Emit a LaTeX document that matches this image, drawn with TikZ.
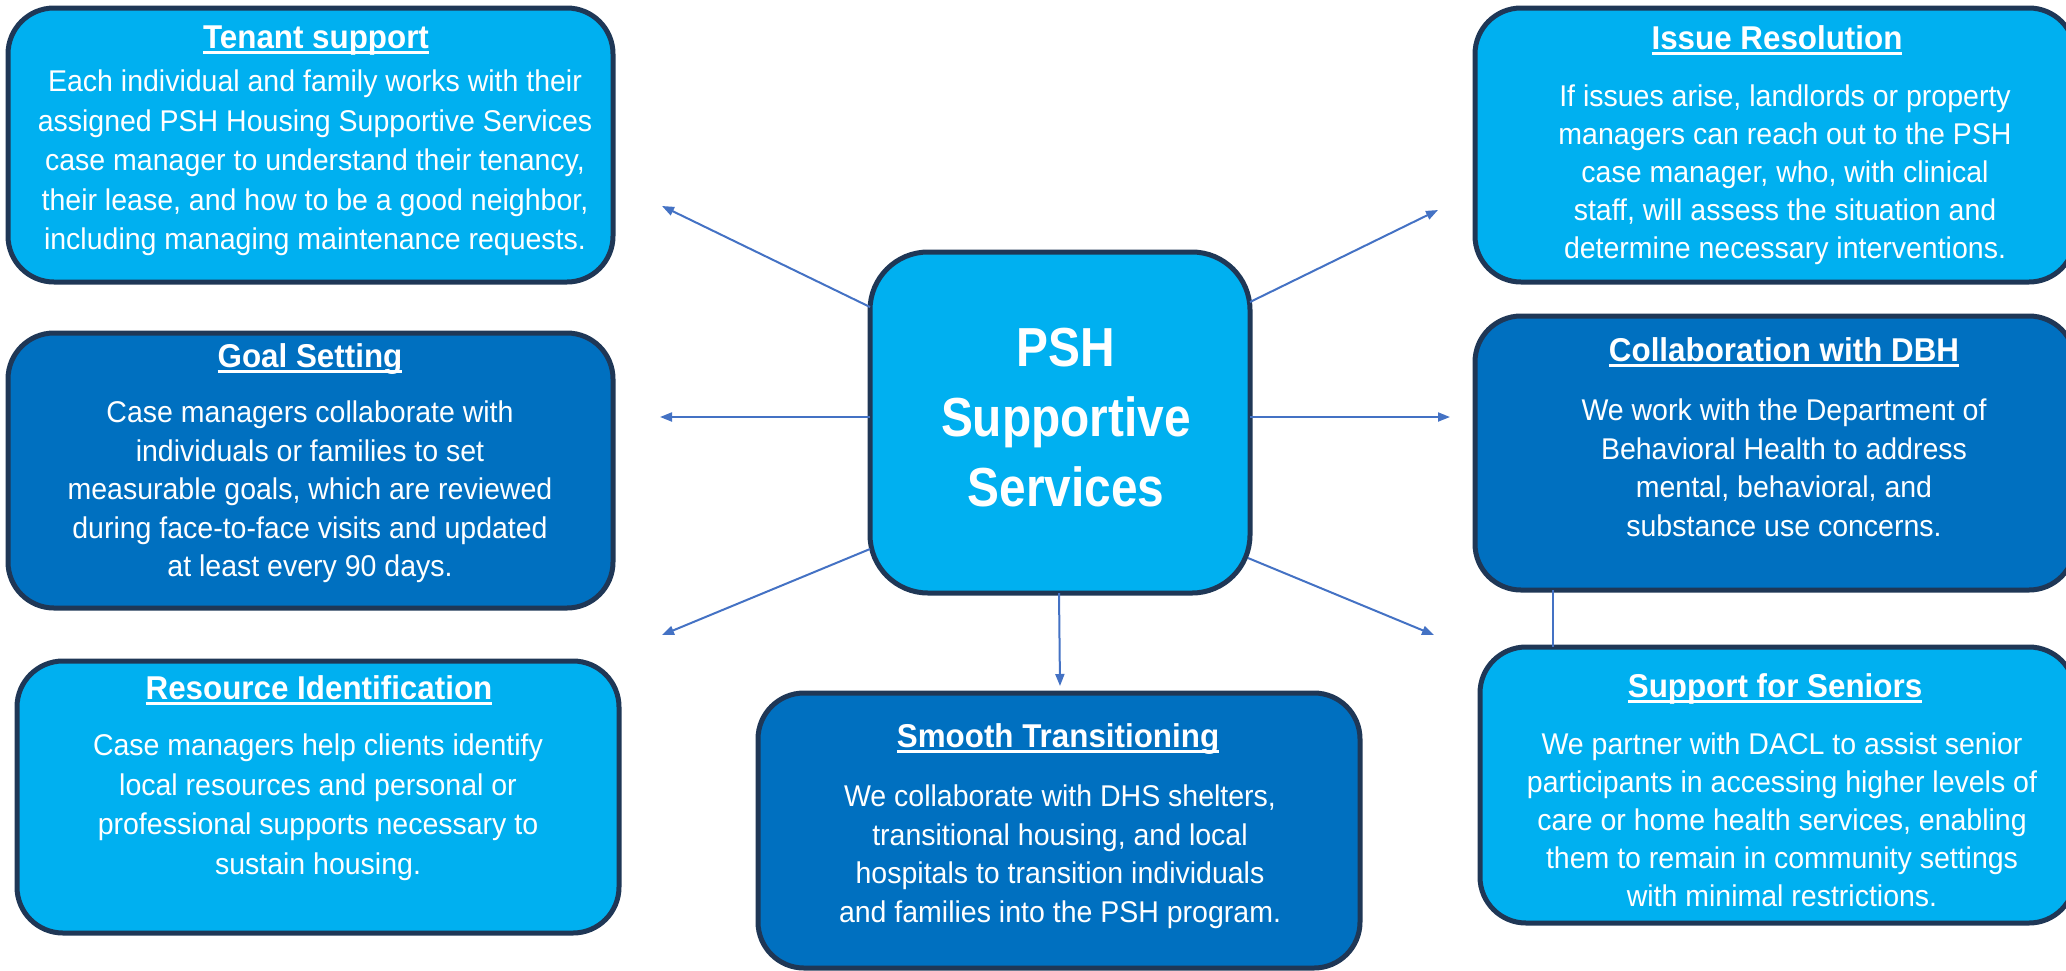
\documentclass[tikz,border=0pt]{standalone}
\usepackage{fontspec}
\setmainfont{Liberation Sans}[FakeStretch=0.95]
\newfontfamily\pshfont{Liberation Sans}[FakeStretch=0.87]
\usetikzlibrary{arrows.meta}
\definecolor{lightfill}{HTML}{00B0F0}
\definecolor{darkfill}{HTML}{0070C0}
\definecolor{edgeblue}{HTML}{1F3756}
\definecolor{linkblue}{HTML}{4472C4}
\newsavebox\ttlbox
\newcommand{\undl}[1]{\sbox\ttlbox{#1}\rlap{\rule[-6pt]{\wd\ttlbox}{2.6pt}}\usebox\ttlbox}
\tikzset{
  card/.style={draw=edgeblue, line width=5pt, inner sep=0pt, outer sep=0pt},
  lightcard/.style={card, fill=lightfill},
  darkcard/.style={card, fill=darkfill},
  cardtitle/.style={text=white, anchor=base, inner sep=0pt,
    font=\bfseries\fontsize{33}{38}\selectfont},
  cardbody/.style={text=white, align=center, anchor=north, inner sep=0pt,
    font=\fontsize{30}{38.5}\selectfont},
  link/.style={draw=linkblue, line width=2pt},
  arrowlink/.style={link, -{Triangle[length=12pt,width=9pt]}}
}
\begin{document}
\begin{tikzpicture}[x=1pt,y=-1pt]
\useasboundingbox (0,0) rectangle (2066,970);

% boxes
\node[lightcard, minimum width=605pt, minimum height=274pt, rounded corners=46pt] (tenant) at (310.5,145) {};
\node[darkcard, minimum width=605pt, minimum height=275pt, rounded corners=46pt] (goal) at (310.5,470.5) {};
\node[lightcard, minimum width=602pt, minimum height=272pt, rounded corners=46pt] (resource) at (318,797) {};
\node[lightcard, minimum width=380pt, minimum height=341pt, rounded corners=58pt] (psh) at (1060,422.5) {};
\node[darkcard, minimum width=602pt, minimum height=275pt, rounded corners=46pt] (smooth) at (1059,830.5) {};
\node[lightcard, minimum width=600pt, minimum height=274pt, rounded corners=46pt] (issue) at (1775,145) {};
\node[darkcard, minimum width=600pt, minimum height=274pt, rounded corners=46pt] (dbh) at (1775,453) {};
\node[lightcard, minimum width=595pt, minimum height=276pt, rounded corners=46pt] (seniors) at (1777.5,785) {};

% centre label
\node[text=white, align=center, anchor=north, inner sep=0pt,
  font=\pshfont\bfseries\fontsize{55}{70}\selectfont] (pshtext) at (1066,327.5)
  {PSH\\Supportive\\Services};

% titles
\node[cardtitle] (tenantT) at (316,48) {\undl{Tenant support}};
\node[cardtitle] (goalT) at (310,367) {\undl{Goal Setting}};
\node[cardtitle] (resourceT) at (319,699) {\undl{Resource Identification}};
\node[cardtitle] (smoothT) at (1058,747) {\undl{Smooth Transitioning}};
\node[cardtitle] (issueT) at (1777,49) {\undl{Issue Resolution}};
\node[cardtitle] (dbhT) at (1784,361) {\undl{Collaboration with DBH}};
\node[cardtitle] (seniorsT) at (1775,697) {\undl{Support for Seniors}};

% body texts
\node[cardbody, font=\fontsize{30}{39.5}\selectfont] (tenantB) at (315,70)
  {Each individual and family works with their\\assigned PSH Housing Supportive Services\\case manager to understand their tenancy,\\their lease, and how to be a good neighbor,\\including managing maintenance requests.};
\node[cardbody] (goalB) at (310,401)
  {Case managers collaborate with\\individuals or families to set\\measurable goals, which are reviewed\\during face-to-face visits and updated\\at least every 90 days.};
\node[cardbody, font=\fontsize{30}{39.5}\selectfont] (resourceB) at (318,734)
  {Case managers help clients identify\\local resources and personal or\\professional supports necessary to\\sustain housing.};
\node[cardbody] (smoothB) at (1060,785)
  {We collaborate with DHS shelters,\\transitional housing, and local\\hospitals to transition individuals\\and families into the PSH program.};
\node[cardbody, font=\fontsize{30}{37.8}\selectfont] (issueB) at (1785,85)
  {If issues arise, landlords or property\\managers can reach out to the PSH\\case manager, who, with clinical\\staff, will assess the situation and\\determine necessary interventions.};
\node[cardbody] (dbhB) at (1784,399)
  {We work with the Department of\\Behavioral Health to address\\mental, behavioral, and\\substance use concerns.};
\node[cardbody, font=\fontsize{30}{38}\selectfont] (seniorsB) at (1782,733)
  {We partner with DACL to assist senior\\participants in accessing higher levels of\\care or home health services, enabling\\them to remain in community settings\\with minimal restrictions.};

% arrow tips
\coordinate (tipTenant) at (662,206);
\coordinate (tipGoal) at (660,417);
\coordinate (tipResource) at (662,635);
\coordinate (tipSmooth) at (1060,686);
\coordinate (tipIssue) at (1438,210);
\coordinate (tipDbh) at (1450,417);
\coordinate (tipSeniors) at (1434,635);

% connectors
\draw[arrowlink] ([yshift=115.5pt]psh.west) -- (tipTenant);
\draw[arrowlink] ([yshift=5.5pt]psh.west) -- (tipGoal);
\draw[arrowlink] ([yshift=-126.5pt]psh.west) -- (tipResource);
\draw[arrowlink] ([xshift=-1pt]psh.south) -- (tipSmooth);
\draw[arrowlink] ([yshift=120.5pt]psh.east) -- (tipIssue);
\draw[arrowlink] ([yshift=5.5pt]psh.east) -- (tipDbh);
\draw[arrowlink] ([yshift=-135.5pt,xshift=-2pt]psh.east) -- (tipSeniors);
\draw[link] ([xshift=-222pt]dbh.south) -- ([xshift=-222pt]dbh.south |- seniors.north);
\end{tikzpicture}
\end{document}
